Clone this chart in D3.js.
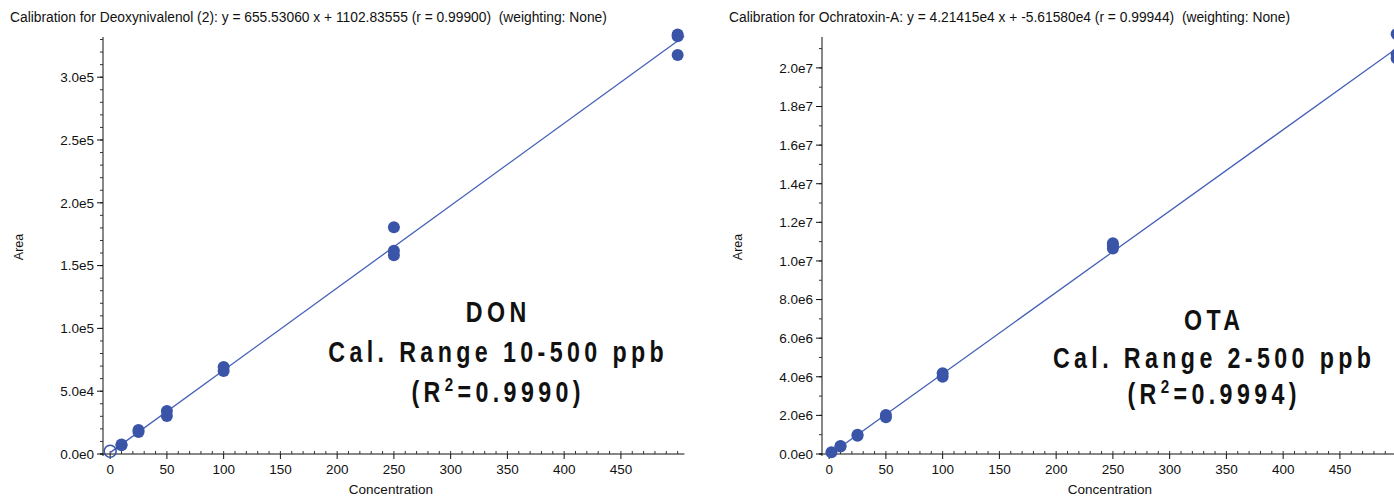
<!DOCTYPE html>
<html>
<head>
<meta charset="utf-8">
<script src="https://cdn.jsdelivr.net/npm/d3@7"></script>
<style>
  body { margin: 0; background: #fff; overflow: hidden; }
  svg { display: block; font-family: "Liberation Sans", Arial, sans-serif; }
</style>
</head>
<body>
<div id="chart"></div>
<script>
// DON calibration points (concentration ppb, area)
const donConc = [0, 10, 10, 25, 25, 50, 50, 100, 100, 250, 250, 250, 500, 500, 500];
const donArea = [2200, 7000, 7600, 17500, 19200, 30200, 34200, 66000, 69200, 158300, 161800, 180600, 332600, 334000, 317600];
const donExcluded = [true, false, false, false, false, false, false, false, false, false, false, false, false, false, false];
const donSlope = 655.53060;
const donIntercept = 1102.83555;

// OTA calibration points
const otaConc = [2, 10, 10, 25, 25, 50, 50, 100, 100, 250, 250, 250, 500, 500, 500];
const otaArea = [90000, 390000, 420000, 950000, 1000000, 1900000, 2020000, 4000000, 4180000, 10650000, 10800000, 10920000, 20500000, 20700000, 21750000];
const otaSlope = 4.21415e4;
const otaIntercept = -5.61580e4;

const xTicks = [0, 50, 100, 150, 200, 250, 300, 350, 400, 450];
const donYTicks = [0, 50000, 100000, 150000, 200000, 250000, 300000];
const otaYTicks = [0, 2e6, 4e6, 6e6, 8e6, 1e7, 1.2e7, 1.4e7, 1.6e7, 1.8e7, 2e7];

const donTitle = "Calibration for Deoxynivalenol (2): y = 655.53060 x + 1102.83555 (r = 0.99900)  (weighting: None)";
const otaTitle = "Calibration for Ochratoxin-A: y = 4.21415e4 x + -5.61580e4 (r = 0.99944)  (weighting: None)";
const donNote = ["DON", "Cal. Range 10-500 ppb", "(R|2|=0.9990)"];
const otaNote = ["OTA", "Cal. Range 2-500 ppb", "(R|2|=0.9994)"];

const W = 1394, H = 497;
const ptFill = "#3a55a8";
const lineCol = "#4560b8";
const pxPerUnit = 1.135;

const svg = d3.select("#chart").append("svg").attr("width", W).attr("height", H);

// one sci-notation label like 2.5e5
const sci = v => {
  if (v === 0) return "0.0e0";
  const e = Math.floor(Math.log10(v));
  return (v / Math.pow(10, e)).toFixed(1) + "e" + e;
};

const drawPanel = (opts) => {
  const g = svg.append("g");
  const x = d3.scaleLinear().domain([-6.3, 506]).range([opts.left, opts.left + 512.3 * pxPerUnit]);
  const y = d3.scaleLinear().domain([0, opts.yMax]).range([454, 37]);

  const clipId = "clip" + opts.id;
  svg.append("clipPath").attr("id", clipId).append("rect")
    .attr("x", opts.left).attr("y", 30).attr("width", x.range()[1] - opts.left).attr("height", 424);

  // title
  g.append("text").attr("x", opts.titleX).attr("y", 22).attr("font-size", 13.8).attr("fill", "#111")
    .style("white-space", "pre").text(opts.title);

  // y axis
  g.append("line").attr("x1", opts.left).attr("x2", opts.left).attr("y1", 37).attr("y2", 456).attr("stroke", "#111");
  const yMinor = d3.range(0, opts.yMax, opts.yMinorStep);
  g.selectAll("line.ymin").data(yMinor).enter().append("line").attr("class", "ymin")
    .attr("x1", opts.left - 3).attr("x2", opts.left).attr("y1", d => y(d)).attr("y2", d => y(d)).attr("stroke", "#333");
  g.selectAll("line.ymaj").data(opts.yTicks).enter().append("line").attr("class", "ymaj")
    .attr("x1", opts.left - 6).attr("x2", opts.left).attr("y1", d => y(d)).attr("y2", d => y(d)).attr("stroke", "#111");
  g.selectAll("text.ylab").data(opts.yTicks).enter().append("text").attr("class", "ylab")
    .attr("x", opts.left - 9).attr("y", d => y(d) + 4.8).attr("text-anchor", "end")
    .attr("font-size", 13.5).attr("fill", "#111").text(sci);

  // x axis
  g.append("line").attr("x1", opts.left - 3).attr("x2", x.range()[1]).attr("y1", 454).attr("y2", 454).attr("stroke", "#111");
  const xMinor = d3.range(0, 506, 10);
  g.selectAll("line.xmin").data(xMinor).enter().append("line").attr("class", "xmin")
    .attr("x1", d => x(d)).attr("x2", d => x(d)).attr("y1", 451).attr("y2", 454).attr("stroke", "#333");
  g.selectAll("line.xmaj").data(xTicks).enter().append("line").attr("class", "xmaj")
    .attr("x1", d => x(d)).attr("x2", d => x(d)).attr("y1", 454).attr("y2", 459).attr("stroke", "#111");
  g.selectAll("text.xlab").data(xTicks).enter().append("text").attr("class", "xlab")
    .attr("x", d => x(d)).attr("y", 474).attr("text-anchor", "middle")
    .attr("font-size", 13.5).attr("fill", "#111").text(d => d);

  // axis titles
  g.append("text").attr("x", x(250) - 3).attr("y", 494).attr("text-anchor", "middle").attr("font-size", 13.5).attr("fill", "#111").text("Concentration");
  g.append("text").attr("transform", `translate(${opts.left - 80},247) rotate(-90)`).attr("text-anchor", "middle")
    .attr("font-size", 12.5).attr("fill", "#111").text("Area");

  // fit line
  g.append("line").attr("clip-path", `url(#${clipId})`)
    .attr("x1", x(0)).attr("y1", y(opts.intercept))
    .attr("x2", x(506)).attr("y2", y(opts.slope * 506 + opts.intercept))
    .attr("stroke", lineCol).attr("stroke-width", 1.3);

  // points
  const pts = opts.conc.map((c, i) => ({c, a: opts.area[i], ex: opts.excluded ? opts.excluded[i] : false}));
  g.selectAll("circle").data(pts).enter().append("circle")
    .attr("cx", d => x(d.c)).attr("cy", d => y(d.a)).attr("r", 6)
    .attr("fill", d => d.ex ? "none" : ptFill)
    .attr("stroke", ptFill).attr("stroke-width", d => d.ex ? 1.6 : 0);

  // annotation, squeezed horizontally to look like a narrow bold face
  const note = g.append("g").attr("transform", `translate(${opts.noteX},0) scale(0.8,1)`)
    .attr("font-weight", "bold").attr("font-size", 29).attr("fill", "#111").attr("letter-spacing", 5.5).attr("text-anchor", "middle");
  opts.note.forEach((line, i) => {
    const t = note.append("text").attr("x", 2.7).attr("y", opts.noteY[i]);
    const parts = line.split("|");
    t.append("tspan").text(parts[0]);
    if (parts.length > 1) {
      t.append("tspan").attr("font-size", 19).attr("dy", -11).text(parts[1]);
      t.append("tspan").attr("dy", 11).text(parts[2]);
    }
  });
};

drawPanel({id: "don", left: 103, yMax: 332000, yMinorStep: 10000, yTicks: donYTicks,
  title: donTitle, titleX: 10, conc: donConc, area: donArea, excluded: donExcluded,
  slope: donSlope, intercept: donIntercept, note: donNote, noteX: 496, noteY: [322, 362, 402]});

drawPanel({id: "ota", left: 822, yMax: 2.16e7, yMinorStep: 1e6, yTicks: otaYTicks,
  title: otaTitle, titleX: 729, conc: otaConc, area: otaArea,
  slope: otaSlope, intercept: otaIntercept, note: otaNote, noteX: 1212, noteY: [330, 368, 404]});
</script>
</body>
</html>
